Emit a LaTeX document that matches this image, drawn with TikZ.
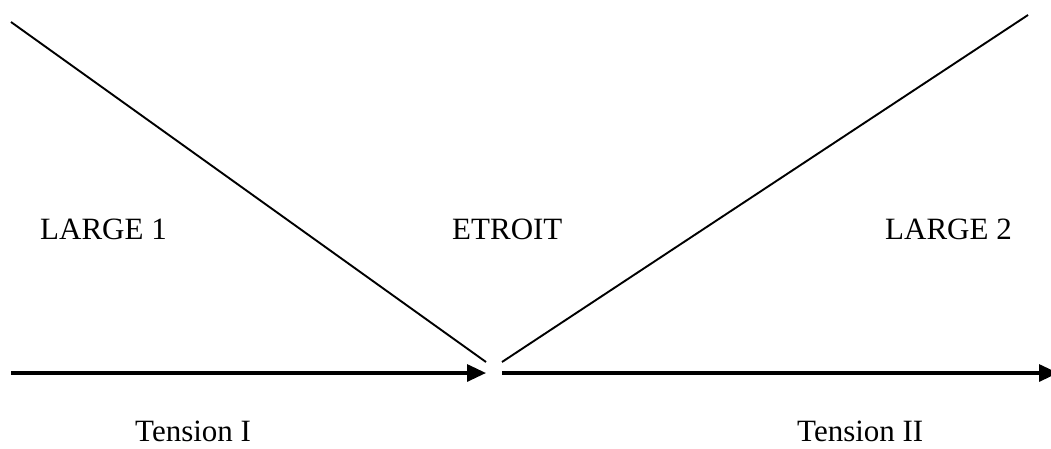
\documentclass[tikz,border=0pt]{standalone}
\usepackage{fontspec}
\setmainfont{Liberation Serif}
\usetikzlibrary{arrows.meta}
\begin{document}
\begin{tikzpicture}[x=1pt,y=-1pt,font=\fontsize{31}{37}\selectfont,
  lbl/.style={anchor=base west,inner sep=0pt},
  side/.style={line width=1.9pt},
  tens/.style={line width=3.2pt,-{Triangle[length=19pt,width=17pt]}}]
  \useasboundingbox (0,0) rectangle (1051,448);
  % the two sides of the V
  \coordinate (l1) at (11,22);   \coordinate (l2) at (486,362);
  \coordinate (r1) at (502,362); \coordinate (r2) at (1028,15);
  \draw[side] (l1) -- (l2);
  \draw[side] (r1) -- (r2);
  % zones
  \node[lbl] (large1) at (40,239) {LARGE 1};
  \node[lbl] (etroit) at (452,239) {ETROIT};
  \node[lbl] (large2) at (885,239) {LARGE 2};
  % tension axis
  \coordinate (a1) at (11,373);  \coordinate (a2) at (486,373);
  \coordinate (b1) at (502,373); \coordinate (b2) at (1058,373);
  \draw[tens] (a1) -- (a2);
  \draw[tens] (b1) -- (b2);
  \node[lbl] (tens1) at (135,441) {Tension I};
  \node[lbl] (tens2) at (797,441) {Tension II};
\end{tikzpicture}
\end{document}
